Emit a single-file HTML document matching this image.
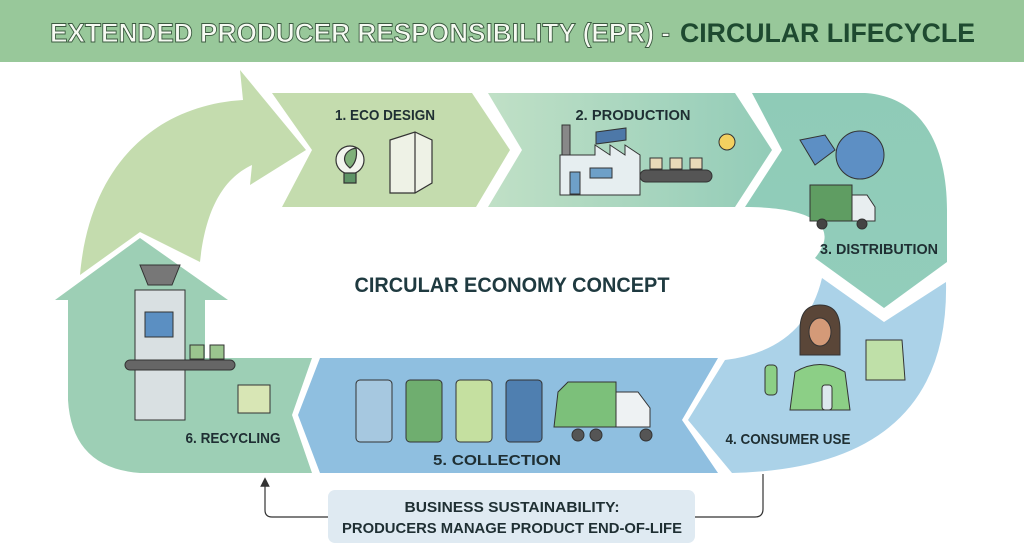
<!DOCTYPE html>
<html><head><meta charset="utf-8"><style>
html,body{margin:0;padding:0;background:#fff}
svg{display:block}
text{font-family:"Liberation Sans",sans-serif;font-weight:bold}
</style></head><body>
<svg width="1024" height="559" viewBox="0 0 1024 559" xmlns="http://www.w3.org/2000/svg">
<defs>
<linearGradient id="gp" x1="0" x2="1"><stop offset="0" stop-color="#c0e0c6"/><stop offset="1" stop-color="#93ccb8"/></linearGradient>
<linearGradient id="gd" x1="0" x2="0" y1="0" y2="1"><stop offset="0" stop-color="#8fcbb7"/><stop offset="1" stop-color="#92cdbb"/></linearGradient>
<marker id="ah" markerWidth="8" markerHeight="8" refX="4" refY="4" orient="auto"><path d="M0,0 L8,4 L0,8 Z" fill="#333"/></marker>
</defs>
<rect width="1024" height="62" fill="#98c89a"/>
<text x="50" y="42" font-size="27" font-weight="normal" textLength="620" lengthAdjust="spacingAndGlyphs" fill="#f6faf2" stroke="#3b5a40" stroke-width="0.9">EXTENDED PRODUCER RESPONSIBILITY (EPR) -</text>
<text x="680" y="42" font-size="27" font-weight="normal" textLength="295" lengthAdjust="spacingAndGlyphs" fill="#1e4a30">CIRCULAR LIFECYCLE</text>

<path d="M80,275 C90,160 160,105 243,100 L240,70 L306,150 L250,185 L252,165 C220,180 205,215 200,262 L140,232 Z" fill="#c4dcae"/>
<path d="M272,93 L472,93 L510,150 L476,207 L282,207 L312,150 Z" fill="#c4dcae"/>
<path d="M488,93 L735,93 L772,150 L735,207 L488,207 L522,150 Z" fill="url(#gp)"/>
<path d="M752,93 L865,93 C925,97 947,150 947,210 L947,262 L884,308 L815,258 C842,225 810,207 745,207 L782,150 Z" fill="url(#gd)"/>
<path d="M725,360 Q805,350 822,278 L884,322 L946,282 Q950,468 732,473 L688,420 Z" fill="#abd2e8"/>
<path d="M320,358 L718,358 L682,420 L718,473 L320,473 L298,415 Z" fill="#8fbfe0"/>
<path d="M55,300 L140,238 L228,300 L205,300 L205,358 L312,358 L292,415 L312,473 L140,473 Q72,468 68,400 L68,300 Z" fill="#9dcfb5"/>

<text x="385" y="120" font-size="15" text-anchor="middle" fill="#1f2f33" textLength="100" lengthAdjust="spacingAndGlyphs">1. ECO DESIGN</text>
<text x="633" y="120" font-size="15" text-anchor="middle" fill="#1f2f33" textLength="115" lengthAdjust="spacingAndGlyphs">2. PRODUCTION</text>
<text x="879" y="254" font-size="15" text-anchor="middle" fill="#1f2f33" textLength="118" lengthAdjust="spacingAndGlyphs">3. DISTRIBUTION</text>
<text x="788" y="444" font-size="15" text-anchor="middle" fill="#1f2f33" textLength="125" lengthAdjust="spacingAndGlyphs">4. CONSUMER USE</text>
<text x="497" y="465" font-size="15" text-anchor="middle" fill="#1f2f33" textLength="128" lengthAdjust="spacingAndGlyphs">5. COLLECTION</text>
<text x="233" y="443" font-size="15" text-anchor="middle" fill="#1f2f33" textLength="95" lengthAdjust="spacingAndGlyphs">6. RECYCLING</text>
<text x="512" y="292" font-size="21" text-anchor="middle" fill="#1f3a40" textLength="315" lengthAdjust="spacingAndGlyphs">CIRCULAR ECONOMY CONCEPT</text>

<g stroke="#333" stroke-width="1.2" fill="none">
<circle cx="350" cy="160" r="14" fill="#f2f5ee"/><path d="M344,173 h12 v10 h-12z" fill="#5e9466"/>
<path d="M350,168 C340,160 345,150 356,148 C358,158 354,165 350,168z" fill="#7fb07a"/>
<path d="M390,140 l25,-8 l17,8 v43 l-17,10 h-25z" fill="#eef2e6"/><path d="M415,132 v61"/>
</g>
<g stroke="#333" stroke-width="1" >
<rect x="562" y="125" width="8" height="30" fill="#888"/>
<path d="M560,155 v40 h80 v-40 l-15,-10 v10 l-15,-10 v10 l-15,-10 v10 z" fill="#e6eef0"/>
<path d="M596,132 l30,-4 v12 l-30,4z" fill="#4d78a8"/>
<rect x="570" y="172" width="10" height="22" fill="#6ea0c8"/><rect x="590" y="168" width="22" height="10" fill="#6ea0c8"/>
<rect x="640" y="170" width="72" height="12" rx="6" fill="#555"/>
<rect x="650" y="158" width="12" height="11" fill="#e8d9b8"/><rect x="670" y="158" width="12" height="11" fill="#e8d9b8"/><rect x="690" y="158" width="12" height="11" fill="#e8d9b8"/>
<circle cx="727" cy="142" r="8" fill="#f3d060"/>
</g>
<g stroke="#333" stroke-width="1">
<circle cx="860" cy="155" r="24" fill="#5d8fc4"/>
<path d="M800,140 l25,-5 l10,15 l-20,15z" fill="#5d8fc4"/>
<path d="M810,185 h42 v36 h-42z" fill="#5f9d62"/><path d="M852,195 h15 l8,12 v14 h-23z" fill="#e8eef0"/>
<circle cx="822" cy="224" r="5" fill="#444"/><circle cx="862" cy="224" r="5" fill="#444"/>
</g>
<g stroke="#333" stroke-width="1">
<path d="M800,330 q0,-25 20,-25 q20,0 20,25 v25 h-40z" fill="#5a4638"/>
<ellipse cx="820" cy="332" rx="11" ry="14" fill="#d49a78"/>
<path d="M795,372 q25,-15 50,0 l5,38 h-60z" fill="#8ccf86"/>
<rect x="765" y="365" width="12" height="30" rx="4" fill="#8ccf86"/>
<rect x="822" y="385" width="10" height="25" rx="3" fill="#dde8ee"/>
<path d="M866,340 h36 l3,40 h-39z" fill="#bfe0a8"/>
</g>
<g stroke="#333" stroke-width="1">
<rect x="356" y="380" width="36" height="62" rx="4" fill="#a6c8e0"/>
<rect x="406" y="380" width="36" height="62" rx="4" fill="#6fae6f"/>
<rect x="456" y="380" width="36" height="62" rx="4" fill="#c5e0a0"/>
<rect x="506" y="380" width="36" height="62" rx="4" fill="#4f7fb0"/>
<path d="M558,392 l10,-10 h48 v45 h-62z" fill="#7cc07a"/>
<path d="M616,392 h22 l12,16 v19 h-34z" fill="#eef2f3"/>
<circle cx="578" cy="435" r="6" fill="#555"/><circle cx="596" cy="435" r="6" fill="#555"/><circle cx="646" cy="435" r="6" fill="#555"/>
</g>
<g stroke="#333" stroke-width="1">
<path d="M140,265 h40 l-8,20 h-24z" fill="#777"/>
<rect x="135" y="290" width="50" height="130" fill="#d9e0e2"/>
<rect x="145" y="312" width="28" height="25" fill="#5b8fc2"/>
<rect x="125" y="360" width="110" height="10" rx="5" fill="#666"/>
<rect x="238" y="385" width="32" height="28" fill="#d8e6b5"/>
<rect x="190" y="345" width="14" height="14" fill="#9bc58e"/><rect x="210" y="345" width="14" height="14" fill="#9bc58e"/>
</g>

<rect x="328" y="490" width="367" height="53" rx="7" fill="#dfeaf2"/>
<text x="512" y="512" font-size="15" text-anchor="middle" fill="#1f2f33" textLength="215" lengthAdjust="spacingAndGlyphs">BUSINESS SUSTAINABILITY:</text>
<text x="512" y="533" font-size="15" text-anchor="middle" fill="#1f2f33" textLength="340" lengthAdjust="spacingAndGlyphs">PRODUCERS MANAGE PRODUCT END-OF-LIFE</text>
<path d="M695,517 H755 Q763,517 763,509 V474" stroke="#333" stroke-width="1.2" fill="none"/>
<path d="M328,517 H272 Q265,517 265,510 V482" stroke="#333" stroke-width="1.2" fill="none" marker-end="url(#ah)"/>
</svg>
</body></html>
